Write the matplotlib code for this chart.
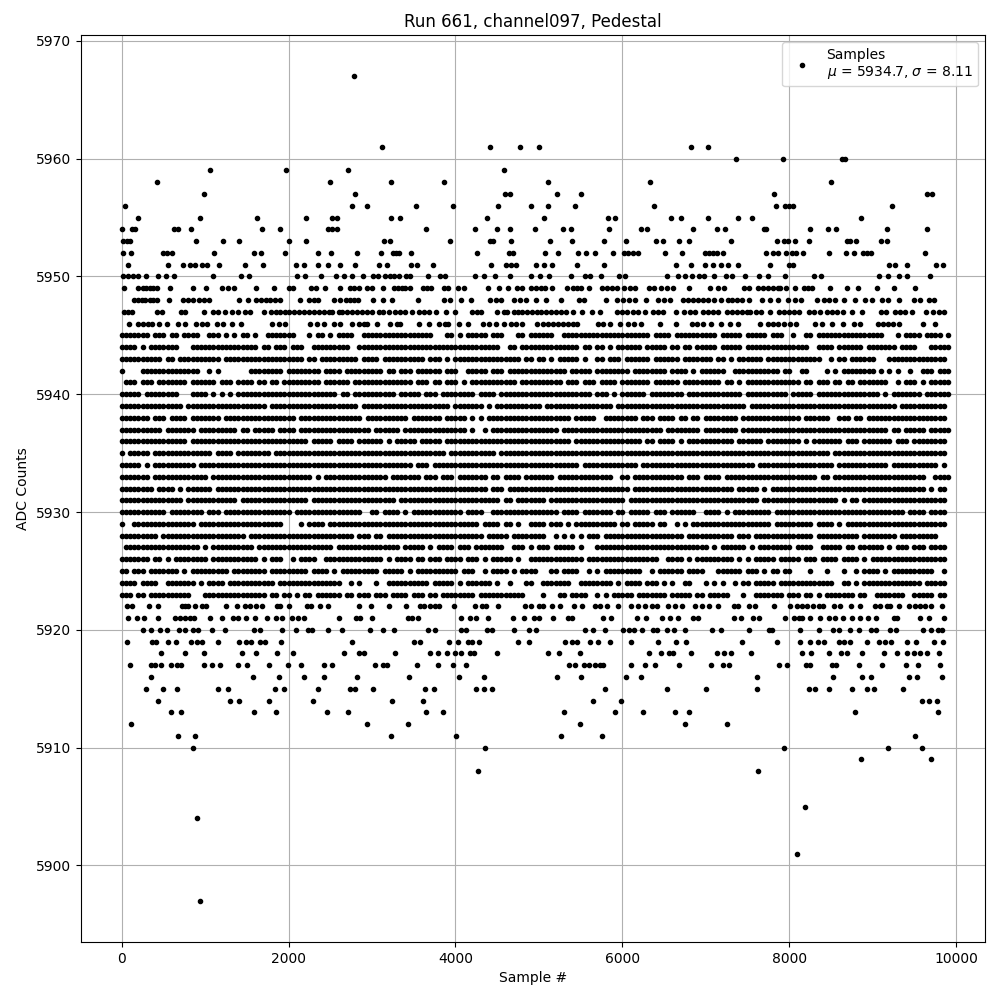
import matplotlib
matplotlib.use("Agg")
import matplotlib.pyplot as plt

# sample numbers, one list per ADC code
s5967 = [2780]
s5961 = [3116, 4412, 4772, 5000, 6828, 7020]
s5960 = [7356, 7920, 8628, 8664]
s5959 = [1064, 1964, 2708, 4580]
s5958 = [428, 2492, 3224, 3860, 5112, 6336, 8496]
s5957 = [992, 2792, 4592, 4656, 5220, 5508, 7812, 9648, 9708]
s5956 = [44, 2756, 2936, 3524, 3968, 4508, 4904, 5112, 5436, 6384, 7836, 7944, 7992, 8040, 9228]
s5955 = [200, 944, 1616, 2204, 2516, 2580, 3224, 3332, 4376, 5064, 5832, 5916, 6588, 6708, 7020, 7380, 7548, 8856]
s5954 = [0, 120, 156, 632, 680, 836, 1676, 1892, 2468, 2516, 2580, 3644, 4232, 4496, 4656, 4952, 5292, 5388, 5844,
         6228, 6300, 6852, 7128, 7224, 7692, 7716, 8244, 8460, 8556, 9168, 9648]
s5953 = [20, 60, 100, 896, 1220, 1412, 2000, 2204, 3140, 3212, 3932, 4412, 4444, 4668, 5136, 5400, 5784, 6048, 6408,
         6492, 6684, 6804, 7296, 7848, 7932, 7980, 8064, 8232, 8688, 8724, 8796, 9096, 9168]
s5952 = [20, 116, 500, 548, 608, 1112, 1580, 1664, 1952, 2348, 2504, 2816, 3104, 3248, 3284, 3324, 3464, 4256, 4640,
         4688, 5076, 5232, 5472, 5568, 5676, 5892, 6024, 6072, 6132, 6192, 6516, 6720, 6984, 7032, 7080, 7128, 7200,
         7716, 7800, 7860, 7956, 8028, 8076, 8160, 8472, 8676, 8772, 8880, 8928, 8976, 9624]
s5951 = [80, 560, 740, 820, 884, 960, 1020, 1172, 1484, 1688, 2084, 2180, 2348, 2468, 2612, 2792, 3080, 3176, 3464,
         3536, 3728, 4424, 4608, 4660, 4720, 4964, 5064, 5160, 5460, 5784, 6648, 6828, 6984, 7080, 7176, 7260, 7380,
         7764, 7992, 8040, 9192, 9264, 9408, 9756, 9840]
s5950 = [20, 80, 140, 200, 288, 440, 536, 632, 1100, 1436, 1532, 2104, 2192, 2384, 2564, 2660, 2756, 2888, 3008, 3068,
         3152, 3212, 3260, 3320, 3404, 3452, 3668, 3812, 3872, 4232, 4340, 4472, 4652, 4904, 5016, 5124, 5388, 5556,
         5616, 5748, 5964, 6036, 6540, 6672, 6756, 6840, 6924, 6972, 7100, 7236, 7308, 7472, 7632, 7740, 7944, 8292,
         8376, 9072, 9180, 9312, 9408, 9684]
s5949 = [28, 200, 250, 292, 340, 380, 428, 584, 860, 1008, 1208, 1280, 1352, 1604, 1820, 2000, 2052, 2264, 2332, 2432,
         2612, 2732, 2790, 2840, 2940, 3000, 3128, 3260, 3310, 3360, 3400, 3452, 3612, 3660, 3708, 3860, 3908, 4028,
         4100, 4388, 4520, 4628, 4732, 4800, 4908, 4960, 5020, 5072, 5156, 5332, 5412, 5460, 5500, 5604, 5760, 5820,
         5872, 5940, 6024, 6092, 6152, 6324, 6384, 6460, 6540, 6612, 6804, 7052, 7140, 7212, 7452, 7512, 7620, 7680,
         7740, 7800, 7860, 7892, 7956, 8064, 8172, 8220, 8272, 8484, 8688, 8820, 9048, 9252, 9504]
s5948 = [148, 200, 240, 280, 340, 380, 428, 572, 740, 800, 860, 932, 992, 1052, 1412, 1520, 1612, 1668, 1724, 1780,
         1836, 1892, 2132, 2240, 2300, 2348, 2540, 2620, 2684, 2740, 2780, 2828, 3008, 3128, 3236, 3548, 3860, 3932,
         4068, 4184, 4412, 4480, 4548, 4700, 4770, 4848, 4964, 5088, 5268, 5484, 5544, 5808, 5940, 6012, 6084, 6156,
         6288, 6432, 6500, 6576, 6732, 6790, 6850, 6910, 6970, 7030, 7092, 7184, 7260, 7312, 7370, 7430, 7512, 7668,
         7772, 7860, 7980, 8064, 8136, 8332, 8412, 8472, 8544, 8652, 8784, 8904, 8988, 9108, 9180, 9312, 9492, 9564,
         9672, 9732]
s5947 = [28, 80, 120, 420, 480, 708, 760, 992, 1100, 1160, 1240, 1320, 1400, 1480, 1540, 1700, 1792, 1850, 1900, 1952,
         2000, 2060, 2120, 2180, 2240, 2300, 2360, 2420, 2480, 2520, 2600, 2640, 2700, 2760, 2820, 2880, 2940, 3000,
         3080, 3128, 3200, 3280, 3340, 3400, 3480, 3560, 3620, 3680, 3768, 3884, 3992, 4200, 4260, 4300, 4500, 4580,
         4620, 4700, 4750, 4800, 4860, 4920, 4980, 5020, 5080, 5140, 5200, 5260, 5320, 5412, 5512, 5640, 5736, 5940,
         6000, 6060, 6132, 6192, 6272, 6372, 6432, 6492, 6648, 6744, 6816, 6876, 6960, 7020, 7080, 7150, 7252, 7312,
         7372, 7432, 7490, 7532, 7604, 7664, 7764, 7872, 7932, 8000, 8052, 8112, 8232, 8300, 8372, 8452, 8512, 8572,
         8640, 8752, 8868, 9100, 9160, 9272, 9332, 9392, 9472, 9636, 9720, 9792, 9852]
s5946 = [92, 200, 260, 310, 360, 452, 548, 680, 764, 892, 960, 1028, 1148, 1220, 1320, 1436, 1800, 1880, 1960, 2260,
         2340, 2420, 2540, 2620, 2760, 2840, 2900, 2940, 3056, 3220, 3300, 3332, 3560, 3680, 3800, 3870, 3908, 4040,
         4148, 4332, 4400, 4480, 4580, 4660, 4720, 4800, 4980, 5044, 5104, 5164, 5224, 5284, 5344, 5404, 5452, 5712,
         5772, 5856, 5976, 6072, 6144, 6228, 6456, 6648, 6840, 6900, 6960, 7056, 7176, 7284, 7380, 7644, 7740, 7800,
         7860, 7932, 8004, 8076, 8304, 8388, 8508, 8640, 8772, 8844, 9060, 9120, 9180, 9240, 9312, 9600, 9744]
s5922 = [68, 120, 332, 440, 720, 760, 800, 884, 960, 1012, 1256, 1388, 1484, 1540, 1612, 1676, 1860, 1900, 2000, 2220,
         2268, 2372, 2468, 2844, 2984, 3200, 3404, 3572, 3620, 3692, 3760, 3800, 3980, 4232, 4320, 4368, 4508, 4836,
         4908, 5000, 5052, 5152, 5256, 5424, 5512, 5672, 5732, 5812, 5952, 6104, 6192, 6272, 6352, 6412, 6552, 6632,
         6712, 6872, 6952, 7032, 7140, 7332, 7380, 7512, 7584, 7812, 8004, 8092, 8152, 8212, 8284, 8352, 8404, 8532,
         8612, 8744, 8852, 9032, 9092, 9172, 9212, 9312, 9432, 9512, 9572, 9632, 9692, 9824]
s5921 = [80, 188, 264, 440, 644, 700, 760, 820, 872, 1064, 1208, 1340, 1400, 1492, 1600, 1736, 1844, 1916, 2036, 2108,
         2180, 2600, 2804, 2852, 2996, 3428, 3480, 3548, 4064, 4172, 4244, 4388, 4688, 4820, 4940, 5000, 5172, 5352,
         5400, 5772, 5868, 6172, 6288, 6472, 6576, 6672, 6852, 6912, 7332, 7416, 7560, 7632, 7944, 8052, 8112, 8152,
         8244, 8372, 8472, 8552, 8640, 8752, 8844, 8940, 9036, 9252, 9292, 9572, 9672, 9852]
s5920 = [260, 348, 460, 548, 692, 760, 852, 912, 1088, 1240, 1580, 1660, 1916, 2092, 2228, 2276, 2468, 2636, 2972, 3128,
         3260, 3668, 3752, 4068, 4124, 4380, 4440, 4700, 4884, 4964, 5556, 5652, 5796, 6012, 6084, 6144, 6240, 6372,
         6420, 6540, 6624, 6756, 7068, 7176, 7512, 7752, 7788, 8124, 8352, 8520, 8592, 8724, 8832, 8976, 9036, 9204,
         9276, 9604, 9696, 9780, 9828]
s5919 = [60, 368, 416, 560, 656, 836, 900, 968, 1160, 1412, 1496, 1544, 1652, 1712, 1904, 2756, 3500, 3572, 3920, 4028,
         4152, 4196, 4280, 4748, 4884, 5316, 5400, 5460, 5612, 5708, 5856, 6108, 6432, 6648, 6768, 7428, 7848, 8124,
         8244, 8340, 8412, 8592, 8652, 8732, 8928, 9072, 9144, 9216, 9408, 9516, 9732, 9840]
s5918 = [476, 760, 992, 1448, 1612, 1856, 2048, 2660, 2840, 2900, 3272, 3692, 3788, 3896, 3992, 4064, 4172, 4220, 4500,
         5112, 5244, 5496, 6324, 6468, 6564, 6612, 6828, 7128, 7212, 7296, 7536, 8148, 8256, 8472, 8616, 8688, 8868,
         9132, 9292, 9412, 9500, 9564, 9648, 9792]
s5917 = [104, 356, 404, 476, 596, 668, 716, 992, 1088, 1184, 1400, 1508, 1760, 1988, 2144, 2420, 2516, 3032, 3128,
         3176, 3536, 3788, 3968, 4124, 5364, 5436, 5544, 5604, 5668, 5728, 5772, 6108, 6276, 6396, 6684, 7056, 7200,
         7272, 7872, 7968, 8196, 8244, 8508, 8556, 8832, 9116, 9396, 9540, 9804]
s5916 = [356, 1568, 1880, 2180, 2420, 2816, 3440, 4040, 4340, 5220, 5508, 6048, 6228, 7608, 8520, 8868, 8976, 9432,
         9532, 9828]
s5915 = [296, 500, 668, 1160, 1280, 1832, 1940, 2348, 2732, 2792, 3008, 3632, 3740, 4244, 4340, 4436, 5796, 6540, 6996,
         7608, 8232, 8304, 8476, 8748, 8928, 9012, 9360]
s5914 = [440, 1304, 1412, 1760, 2288, 3236, 3608, 5652, 5988, 9588, 9672, 9768]
s5913 = [596, 716, 1580, 1844, 2456, 2708, 3644, 3848, 5304, 5916, 6252, 6636, 6804, 8784, 9780]
s5912 = [116, 2936, 3428, 5496, 6756, 7248]
s5911 = [680, 884, 3224, 4004, 5268, 5760, 9504]
s5910 = [860, 4352, 7932, 9180, 9588]
s5909 = [8856, 9696]
s5908 = [4268, 7620]
s5905 = [8184]
s5904 = [908]
s5901 = [8088]
s5897 = [944]

sparse_levels = {5967: s5967, 5961: s5961, 5960: s5960, 5959: s5959, 5958: s5958, 5957: s5957, 5956: s5956,
                 5955: s5955, 5954: s5954, 5953: s5953, 5952: s5952, 5951: s5951, 5950: s5950, 5949: s5949,
                 5948: s5948, 5947: s5947, 5946: s5946, 5922: s5922, 5921: s5921, 5920: s5920, 5919: s5919,
                 5918: s5918, 5917: s5917, 5916: s5916, 5915: s5915, 5914: s5914, 5913: s5913, 5912: s5912,
                 5911: s5911, 5910: s5910, 5909: s5909, 5908: s5908, 5905: s5905, 5904: s5904, 5901: s5901,
                 5897: s5897}

# dense codes: one block per 1000 samples, one character per 50 samples
dense_levels = list(range(5945, 5922, -1))
dense_rows = [
    "#######.###.##.####. .###.#.#.##.#..##### ##...#.##.#.####..## ###############...## .#.#####.###...##.## ####..############## #######.####.####### ###.#####.#####.###. .#..##.############# ###...#.####.####.#.",
    "####.#.#######...### #############.##.### .###..#########..### #################### ###########..##.#### ##########.##.##.#.# #####.#####.##.##.## ###.#####.########## #####..####.######.# ######.####...#####.",
    "##########.##.###### ####.############### ####.##.#########.## ##.##########.###.#. ################.##. ##.#.#####.#..##.### .######.######.##### ##.##.#.######.##### ########..#.##.##### #...##############..",
    "#....##############. .#.#.......########. ########.####.###### ###.##.###.######.## #..#####.###.####### #######.#####.###### ##.########.####.#.# #####..###########.# #..##....#.#.####### #.#.#.#..#..###.###.",
    ".###.###.#######.### ###.###.####.##.##.# ########.######.#### ##########.###.##.## #.#.###########.#### ######.###.###.####. #######.######.##### ####.##.#.########## ###.##.###.##.##.### ####..#.###.#.#####.",
    "#####.########...### #.#.#.#.############ ############.##.#### ######.#####.###.### #####.####.######### #############.###.#. ######.########.#### #########.########## .#####.############# ##.#.#######.######.",
    "###############.#### ###############.#### #################.## ###################. #######.#.########## #.################.# #################### ##########.######### #################### ######.###########..",
    "#######.###.####.### ####.############### ##.###############.# #########.#######.## ###.#.#.############ ########.#####..#### ####.###.####.##.##. ########.########### ###.######..###.##.# ##################..",
    "##########.#######.# ########.##.#####.## ##.################# .######.############ ###.#..#.########### #####.############## ##########.########. ########.########### #################### ####.##.#####.#####.",
    "################.### #################### #####.#####.####.### ###.#.#####.#####.## #################### ########.########### #####.##.####.#.#### #######.######.##### ###.#.#######.###.## #####.###.########..",
    "#.#####.############ ##.####.########.### #################### ##################.# ##########.######### #################### #################### #################### ##########.######### ##################..",
    "#####.#.##########.# #################### #################### ##########.###.##### #################### ##########.######### ####.############### ############.####### ###########.######## ####.###########.#..",
    "#######.############ #.################## ######.#.########### ####.#######.###.### .#######.##.####.### ####.#############.. ##.############.###. ####.############### #######.##.######### #############..####.",
    "########.####.#.#### ##.################# #################### #################### ########.###.####### #################### ##.################# #######.#####.#.#### #################### #############.#.##..",
    "###############.#### ########.########### #####.############## ######.############# ###########.##.##### ##.################# #.################## #############.###### ############.#.##.## ##################..",
    "###########.######## .###.############### #.################.. ##.####.#.########## ##.####..########### #####.####.#######.# #.#####.###.######.. ####.#.#########.### #################### ########.####.####..",
    "#..###############.# ###################. ...#.####.########## #################### ######.####.##.#..## ##.###.#.##########. ##.#####.##..#.#.### ################.### ######.####.#.###### ##################..",
    "#########.########## ##########.######### ################.### .##.################ #######.#####.###### ##..#.#.#.#.###.#### ###############.#### #######.###.######## ######.##########.## ######.#########....",
    ".##################. #.##########.####### ###########.######## #######.#####.#.#### .###.#######..###.#. ###.#####.#...###### #################### #.#.######.#.####### #.####..#####.##.### ###.#.###.###.####..",
    "#######.##.#.####### #.###########.#.###. .#.####..########### ###.#.####.##.###.## ##.###.#.#####.#..## ###########.######## #########..####.#.## #######.#.#.#####.## ###.###.####.####.#. ##################..",
    "##.###.#######.#.### ######.########.#### #####.####.#.####### ##.#####.#.######### #.###..#.####.#.#### ...##.####..#.#.#### #####..#.######.#### ...######.###.#.##.# #....#...#...#..#.## ##.#.##########..#..",
    "####.####..#######.# .####.###########.## #############..#.#.. .#..##########.#####. .#.######.#..#...##. .#######..########.# .####.###.#.#..##... #.#.#..#.##.#####.## ###########..##.#.## ############.#####..",
    "###.##.##########... ###############.##.# #.#.##.######.##.### .###.####.###.##.### #####.###########... .#...##.####..#.#.## ###.#######.#####.## .#####...#..#######. ###.##.#.#######.##. .#######..#####.##..",
]

xs = []
ys = []
for adc, samples in sparse_levels.items():
    xs += samples
    ys += [adc] * len(samples)
for adc, row in zip(dense_levels, dense_rows):
    for b, block in enumerate(row.split()):
        for i, ch in enumerate(block):
            if ch == "#":
                xs.append(b * 1000 + i * 50)
                ys.append(adc)

fig, ax = plt.subplots(figsize=(10, 10))
ax.plot(xs, ys, '.', color='black', label='Samples\n$\\mu$ = 5934.7, $\\sigma$ = 8.11')
ax.set_title('Run 661, channel097, Pedestal')
ax.set_xlabel('Sample #')
ax.set_ylabel('ADC Counts')
ax.set_xlim(-487, 10345)
ax.legend(loc='upper right')
ax.grid(True)
plt.subplots_adjust(left=0.081, right=0.985, top=0.965, bottom=0.058)
plt.savefig('out.png', dpi=100)
